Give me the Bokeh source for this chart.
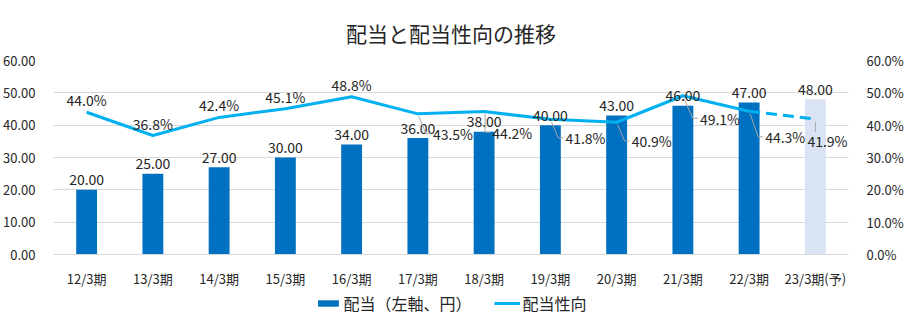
from bokeh.plotting import figure
from bokeh.layouts import column
from bokeh.models import (ColumnDataSource, Range1d, LinearAxis, FixedTicker,
                          NumeralTickFormatter, PrintfTickFormatter, Legend, LegendItem)
from bokeh.core.properties import value
from bokeh.embed import file_html
from bokeh.resources import INLINE

title_text = "配当と配当性向の推移"
categories = ["12/3期", "13/3期", "14/3期", "15/3期", "16/3期", "17/3期",
              "18/3期", "19/3期", "20/3期", "21/3期", "22/3期", "23/3期(予)"]
dividend = [20, 25, 27, 30, 34, 36, 38, 40, 43, 46, 47, 48]
payout = [44.0, 36.8, 42.4, 45.1, 48.8, 43.5, 44.2, 41.8, 40.9, 49.1, 44.3, 41.9]
left_ticks = [0, 10, 20, 30, 40, 50, 60]
series_names = ["配当（左軸、円）", "配当性向"]

# label placement (screen pixels, y down) for payout labels; None = above the point
label_dx = [None, None, None, None, None, 15, 8, 15, 15, 17, 16, -8]
label_dy = [None, None, None, None, None, 20, 21, 19, 19, 23, 26, 22]

FONT = "Noto Sans CJK JP"
TXT = "#262626"
BAR = "#0070C0"
BAR_FC = "#DAE3F3"
LINE = "#00B0F0"
W = 906
TH, LH = 50, 35                 # title strip, legend strip heights
H = 325 - TH - LH
BL, BR, BT, BB = 50, 56, 10, 32
FW, FH = W - BL - BR, H - BT - BB
n = len(categories)
xs = list(range(n))
px_x = FW / n          # pixels per x unit
px_y = FH / 60.0       # pixels per y unit


def blank(h):
    f = figure(width=W, height=h, x_range=Range1d(0, W), y_range=Range1d(0, h),
               output_backend="svg", toolbar_location=None,
               min_border_left=0, min_border_right=0, min_border_top=0, min_border_bottom=0)
    f.axis.visible = False
    f.grid.visible = False
    f.outline_line_color = None
    return f


# ---- title strip
tf = blank(TH)
tf.text(x=[W / 2], y=[TH - 32], text=[title_text], text_align="center",
        text_baseline="middle", text_font=value(FONT), text_font_size="21px",
        text_color=TXT)

# ---- main chart
p = figure(width=W, height=H,
           x_range=Range1d(-0.5, n - 0.5), y_range=Range1d(0, 60),
           output_backend="svg", toolbar_location=None,
           min_border_left=BL, min_border_right=BR,
           min_border_top=BT, min_border_bottom=BB)
p.extra_y_ranges = {"pct": Range1d(0, 60)}
p.outline_line_color = None
p.background_fill_color = "white"
p.border_fill_color = "white"

colors = [BAR] * (n - 1) + [BAR_FC]
src = ColumnDataSource(dict(x=xs, d=dividend, c=colors,
                            dl=["%.2f" % v for v in dividend]))
p.vbar(x="x", top="d", width=0.315, fill_color="c", line_color=None, source=src)

p.line(xs[:-1], payout[:-1], line_color=LINE, line_width=3,
       line_join="round", y_range_name="pct")
p.line(xs[-2:], payout[-2:], line_color=LINE, line_width=3,
       line_dash="11 6", y_range_name="pct")

# bar labels
p.text(x="x", y="d", text="dl", source=src, text_align="center",
       text_baseline="alphabetic", y_offset=-10, text_font=value(FONT),
       text_font_size="14px", text_color=TXT)

# payout labels
above_x, above_y, above_t = [], [], []
side_x, side_y, side_t, side_dx, side_dy = [], [], [], [], []
for i in range(n):
    t = "%.1f%%" % payout[i]
    if label_dx[i] is None:
        above_x.append(i); above_y.append(payout[i]); above_t.append(t)
    else:
        side_x.append(i); side_y.append(payout[i]); side_t.append(t)
        side_dx.append(label_dx[i]); side_dy.append(label_dy[i])

p.text(x=above_x, y=above_y, text=above_t, text_align="center",
       text_baseline="alphabetic", y_offset=-12, text_font=value(FONT),
       text_font_size="14px", text_color=TXT, y_range_name="pct")

# leader lines (from the point to the label)
lx, ly = [], []
for xi, yi, dx, dy in zip(side_x, side_y, side_dx, side_dy):
    if dx > 0:
        ex = xi + (dx - 7) / px_x
        ey = yi - dy / px_y
        fx = xi + (dx - 2) / px_x
        lx.append([xi + 1.0 / px_x, ex, fx])
        ly.append([yi - 2.5 / px_y, ey, ey])
    else:
        lx.append([xi, xi])
        ly.append([yi - 3 / px_y, yi - (dy - 9) / px_y])
p.multi_line(lx, ly, line_color="#A6A6A6", line_width=1, y_range_name="pct")

sside = ColumnDataSource(dict(x=side_x, y=side_y, t=side_t, dx=side_dx, dy=side_dy))
p.text(x="x", y="y", text="t", x_offset="dx", y_offset="dy", source=sside,
       text_align="left", text_baseline="middle", text_font=value(FONT),
       text_font_size="14px", text_color=TXT, y_range_name="pct")

# axes
p.xaxis.ticker = FixedTicker(ticks=xs)
p.xaxis.major_label_overrides = {i: c for i, c in enumerate(categories)}
p.xaxis.major_tick_line_color = None
p.xaxis.minor_tick_line_color = None
p.xaxis.axis_line_color = "#D9D9D9"
p.xaxis.major_label_standoff = 8
p.xaxis.major_label_text_font = FONT
p.xaxis.major_label_text_font_size = "13px"
p.xaxis.major_label_text_color = TXT
p.xgrid.visible = False

p.yaxis.ticker = FixedTicker(ticks=left_ticks)
p.yaxis.formatter = NumeralTickFormatter(format="0.00")
p.yaxis.axis_line_color = None
p.yaxis.major_tick_line_color = None
p.yaxis.minor_tick_line_color = None
p.yaxis.major_label_standoff = 12
p.yaxis.major_label_text_font = FONT
p.yaxis.major_label_text_font_size = "13px"
p.yaxis.major_label_text_color = TXT
p.ygrid.ticker = FixedTicker(ticks=left_ticks)
p.ygrid.grid_line_color = "#D9D9D9"

ra = LinearAxis(y_range_name="pct", ticker=FixedTicker(ticks=left_ticks),
                formatter=PrintfTickFormatter(format="%.1f%%"))
ra.axis_line_color = None
ra.major_tick_line_color = None
ra.minor_tick_line_color = None
ra.major_label_standoff = 12
ra.major_label_text_font = FONT
ra.major_label_text_font_size = "13px"
ra.major_label_text_color = TXT
p.add_layout(ra, "right")

# ---- legend strip (swatch renderers kept outside the strip's visible range)
lg = blank(LH)
lg_bar = lg.vbar(x=[-100], top=[-100], bottom=[-120], width=1, fill_color=BAR, line_color=None)
lg_line = lg.line(x=[-100, -90], y=[-100, -100], line_color=LINE, line_width=3)
legend = Legend(items=[LegendItem(label=series_names[0], renderers=[lg_bar]),
                       LegendItem(label=series_names[1], renderers=[lg_line])],
                orientation="horizontal", location="top_center",
                label_text_font=FONT, label_text_font_size="16px",
                label_text_color=TXT, glyph_width=26, glyph_height=8,
                label_standoff=3, spacing=22, border_line_color=None,
                background_fill_alpha=0, padding=2, margin=1)
lg.add_layout(legend, "center")

layout = column(tf, p, lg, spacing=0)
open("out.html", "w").write(file_html(layout, INLINE))
